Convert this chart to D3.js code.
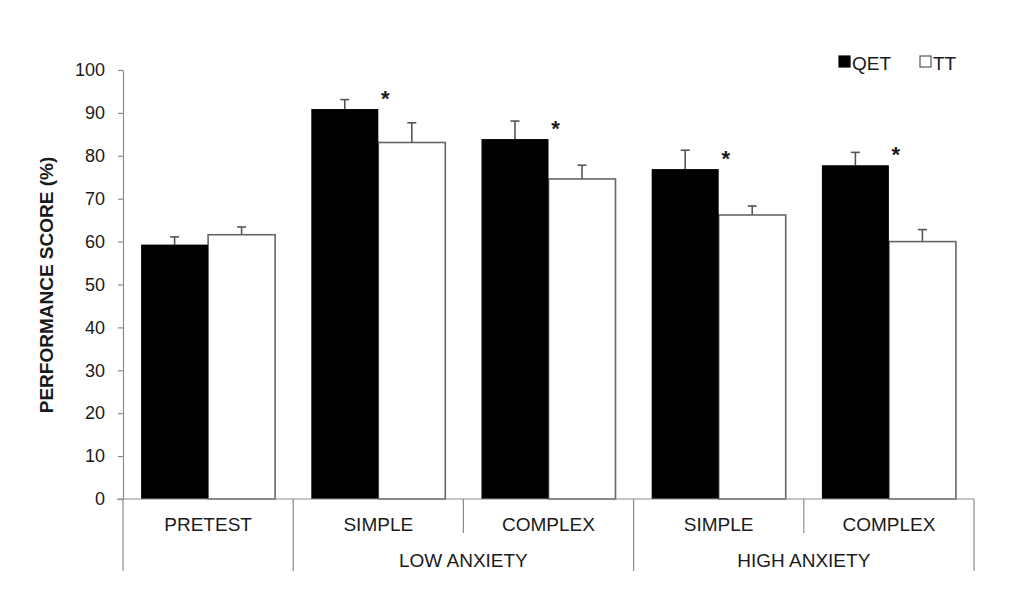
<!DOCTYPE html>
<html>
<head>
<meta charset="utf-8">
<style>
    body { margin: 0; background: #fff; }
    text { font-family: "Liberation Sans", Arial, sans-serif; fill: #1a1a1a; }
    .axis path, .axis line { stroke: #8c8c8c; stroke-width: 1.2; }
    .axis text { font-size: 18px; font-family: "Liberation Sans", Arial, sans-serif; fill: #1a1a1a; }
    .err { stroke: #555; stroke-width: 1.6; fill: none; }
</style>
</head>
<body>
<script src="https://d3js.org/d3.v7.min.js"></script>
<div class="chart"></div>
<script>

var conditions = ["PRETEST", "SIMPLE", "COMPLEX", "SIMPLE", "COMPLEX"];
var groups = ["", "LOW ANXIETY", "HIGH ANXIETY"];
var groupSpan = [1, 2, 2]; // how many conditions in each group
var series = ["QET", "TT"];
var qetScore = [59.3, 90.9, 83.9, 76.9, 77.8];
var qetErr = [1.8, 2.2, 4.2, 4.4, 3.0];
var ttScore = [61.6, 83.1, 74.6, 66.2, 60.0];
var ttErr = [1.8, 4.6, 3.2, 2.1, 2.8];
var significant = [false, true, true, true, true];
var yTicks = [0, 10, 20, 30, 40, 50, 60, 70, 80, 90, 100];

var width = 1024, height = 603;
var plotLeft = 123, plotRight = 974, plotTop = 70, plotBottom = 499;

var svg = d3.select(".chart").append("svg")
    .attr("width", width)
    .attr("height", height);

var y = d3.scaleLinear().domain([0, 100]).range([plotBottom, plotTop]);

var x0 = d3.scaleBand()
    .domain(d3.range(conditions.length))
    .range([plotLeft, plotRight]);

var x1 = d3.scaleBand()
    .domain(series)
    .range([0, x0.bandwidth()])
    .paddingOuter(0.27);

// y axis
svg.append("g")
    .attr("class", "axis")
    .attr("transform", "translate(" + plotLeft + ",0)")
    .call(d3.axisLeft(y).tickValues(yTicks).tickSize(5).tickSizeOuter(0).tickPadding(13));

// y label
svg.append("text")
    .attr("transform", "translate(53," + 285 + ") rotate(-90)")
    .attr("text-anchor", "middle")
    .style("font-size", "19px")
    .style("font-weight", "bold")
    .text("PERFORMANCE SCORE (%)");

var rows = conditions.map(function(c, i) {
    return {i: i, qet: qetScore[i], qetE: qetErr[i], tt: ttScore[i], ttE: ttErr[i], sig: significant[i]};
});

// error bars (drawn first so bars cover the lower stem)
function errBar(xc, v, e) {
    var g = svg.append("g").attr("class", "err");
    g.append("line").attr("x1", xc).attr("x2", xc).attr("y1", y(v)).attr("y2", y(v + e));
    g.append("line").attr("x1", xc - 4.5).attr("x2", xc + 4.5).attr("y1", y(v + e)).attr("y2", y(v + e));
}
rows.forEach(function(d) {
    errBar(x0(d.i) + x1("QET") + x1.bandwidth() / 2, d.qet, d.qetE);
    errBar(x0(d.i) + x1("TT") + x1.bandwidth() / 2, d.tt, d.ttE);
});

// TT bars
svg.selectAll(".tt")
    .data(rows)
    .enter().append("rect")
    .attr("class", "tt")
    .attr("x", function(d) { return x0(d.i) + x1("TT"); })
    .attr("y", function(d) { return y(d.tt); })
    .attr("width", x1.bandwidth())
    .attr("height", function(d) { return plotBottom - y(d.tt); })
    .attr("fill", "#fff")
    .attr("stroke", "#666")
    .attr("stroke-width", 1.6);

// QET bars
svg.selectAll(".qet")
    .data(rows)
    .enter().append("rect")
    .attr("class", "qet")
    .attr("x", function(d) { return x0(d.i) + x1("QET"); })
    .attr("y", function(d) { return y(d.qet); })
    .attr("width", x1.bandwidth())
    .attr("height", function(d) { return plotBottom - y(d.qet); })
    .attr("fill", "#000");

// asterisks
svg.selectAll(".star")
    .data(rows.filter(function(d) { return d.sig; }))
    .enter().append("text")
    .attr("class", "star")
    .attr("x", function(d) { return x0(d.i) + x1("TT") + 7; })
    .attr("y", function(d) { return y(d.qet) - 3; })
    .attr("text-anchor", "middle")
    .style("font-size", "22px")
    .style("font-weight", "bold")
    .text("*");

// x axis baseline
svg.append("line")
    .attr("x1", plotLeft - 6).attr("x2", plotRight)
    .attr("y1", plotBottom).attr("y2", plotBottom)
    .attr("stroke", "#8c8c8c").attr("stroke-width", 1.2);

// category dividers: full length at group edges, short inside a group
var edges = [0];
groupSpan.reduce(function(acc, s) { edges.push(acc + s); return acc + s; }, 0);
d3.range(conditions.length + 1).forEach(function(k) {
    var xx = k < conditions.length ? x0(k) : plotRight;
    var full = edges.indexOf(k) >= 0;
    svg.append("line")
        .attr("x1", xx).attr("x2", xx)
        .attr("y1", plotBottom).attr("y2", full ? 571 : 533)
        .attr("stroke", "#8c8c8c").attr("stroke-width", 1.2);
});

// condition labels
svg.selectAll(".cond")
    .data(conditions)
    .enter().append("text")
    .attr("class", "cond")
    .attr("x", function(d, i) { return x0(i) + x0.bandwidth() / 2; })
    .attr("y", 531)
    .attr("text-anchor", "middle")
    .style("font-size", "19px")
    .text(function(d) { return d; });

// group labels
var start = 0;
groups.forEach(function(g, gi) {
    var a = x0(start);
    var b = start + groupSpan[gi] < conditions.length ? x0(start + groupSpan[gi]) : plotRight;
    svg.append("text")
        .attr("x", (a + b) / 2)
        .attr("y", 567)
        .attr("text-anchor", "middle")
        .style("font-size", "19px")
        .text(g);
    start += groupSpan[gi];
});

// legend
var legend = svg.append("g").attr("transform", "translate(839,56)");
series.forEach(function(s, i) {
    var gx = i * 81;
    legend.append("rect")
        .attr("x", gx).attr("y", 0)
        .attr("width", 11).attr("height", 11)
        .attr("fill", i === 0 ? "#000" : "#fff")
        .attr("stroke", i === 0 ? "#000" : "#555")
        .attr("stroke-width", 1.2);
    legend.append("text")
        .attr("x", gx + 13).attr("y", 14)
        .style("font-size", "19px")
        .text(s);
});

</script>
</body>
</html>
